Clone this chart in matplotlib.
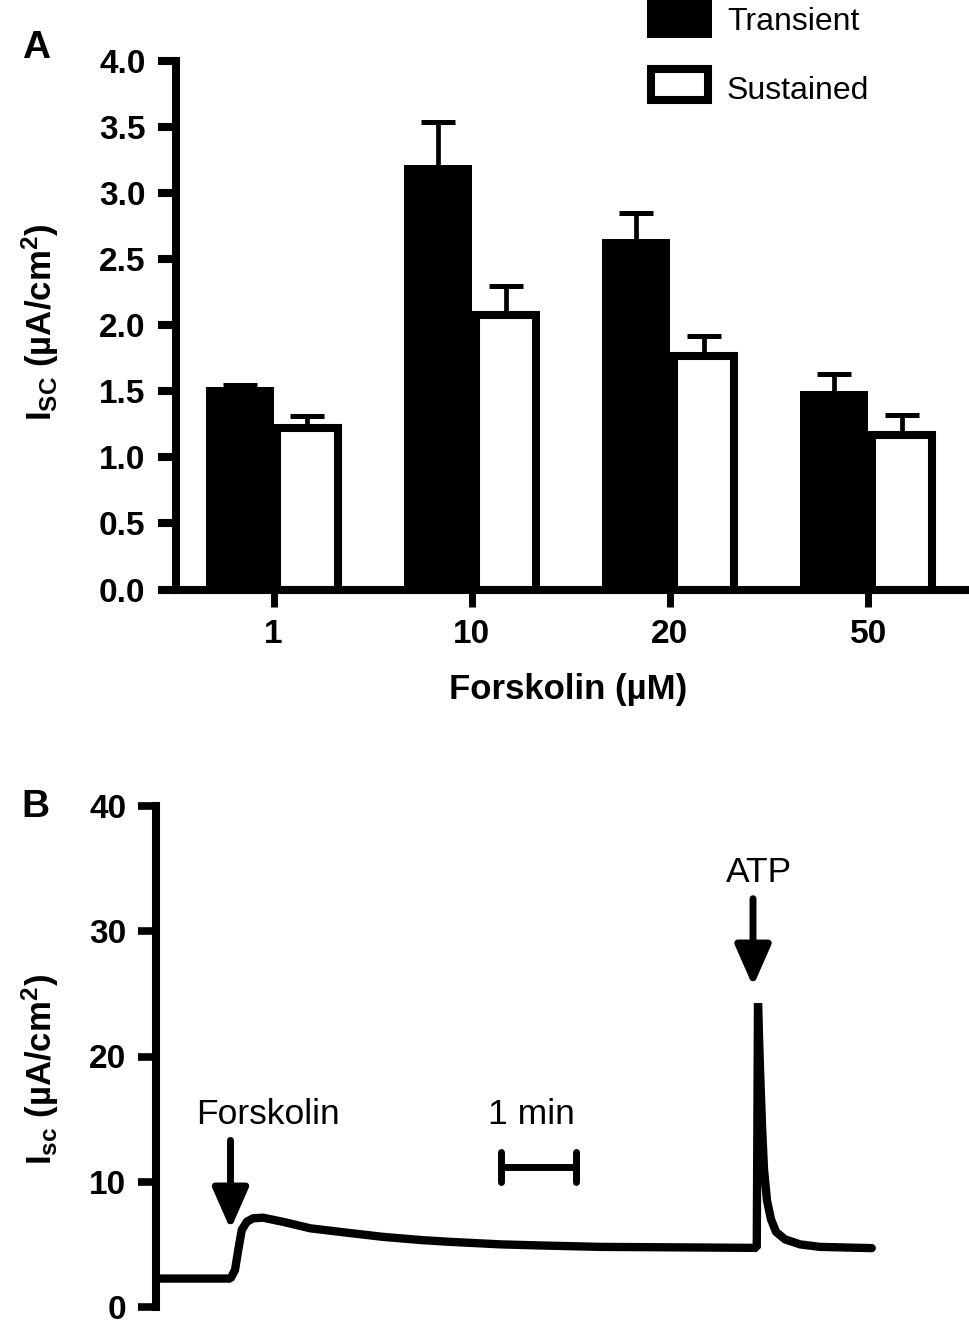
import numpy as np
import matplotlib
matplotlib.use('Agg')
import matplotlib.pyplot as plt
from matplotlib.patches import Rectangle

plt.rcParams['font.family'] = 'Liberation Sans'
plt.rcParams['mathtext.fontset'] = 'custom'
plt.rcParams['mathtext.rm'] = 'Liberation Sans:bold'
plt.rcParams['mathtext.it'] = 'Liberation Sans:bold'
plt.rcParams['mathtext.bf'] = 'Liberation Sans:bold'

# ---- panel A: bar data
doses = ['1', '10', '20', '50']
transient = [1.53, 3.21, 2.65, 1.50]
transient_err = [0.02, 0.33, 0.20, 0.13]
sustained = [1.22, 2.08, 1.77, 1.17]
sustained_err = [0.09, 0.22, 0.15, 0.15]

# ---- panel B: Isc trace (seconds, uA/cm2)
t_sec = [3, 60, 63.6, 66.2, 69, 73, 78, 86, 102, 124, 156, 182, 212, 236, 276,
         313, 356, 436, 481, 482, 483.6, 485.2, 486.8, 489.2, 492.4, 496.4,
         503.6, 515.6, 531.6, 573]
isc = [2.27, 2.27, 2.95, 4.55, 6.15, 6.8, 7.08, 7.13, 6.8, 6.28, 5.9, 5.6,
       5.35, 5.2, 5.0, 4.9, 4.8, 4.75, 4.72, 24.25, 19.0, 14.5, 11.0, 8.5, 7.0,
       6.0, 5.4, 5.0, 4.8, 4.7]
forsk_t = 60
atp_t = 478
scale_start = 276
scale_len = 60

W, H = 969, 1332
fig = plt.figure(figsize=(W / 100, H / 100), dpi=100)

# ---------------- panel A
axA = fig.add_axes([176 / W, 1 - 589.5 / H, (W - 176) / W, (589.5 - 61) / H])
x = np.arange(len(doses))
axA.bar(x - 0.343, transient, width=0.343, align='edge', color='k', lw=0)
axA.bar(x + 0.02, sustained, width=0.303, align='edge', facecolor='white',
        edgecolor='k', lw=5.8)
for xc, vals, errs in [(x - 0.171, transient, transient_err),
                       (x + 0.171, sustained, sustained_err)]:
    eb = axA.errorbar(xc, vals, yerr=[np.zeros(4), errs], fmt='none',
                      ecolor='k', elinewidth=3.4, capsize=12.5, capthick=3.6)
    eb[1][0].set_visible(False)  # only the upper cap
axA.set_xlim(-0.492, 3.509)
axA.set_ylim(0, 4.0)
axA.set_yticks(np.arange(0, 4.01, 0.5))
axA.set_yticklabels(['%.1f' % v for v in np.arange(0, 4.01, 0.5)])
axA.set_xticks(x)
axA.set_xticklabels(doses)
for s in ['top', 'right']:
    axA.spines[s].set_visible(False)
for s in ['left', 'bottom']:
    axA.spines[s].set_linewidth(5.8)
axA.tick_params(axis='y', length=13, width=5.8, pad=9, labelsize=24)
axA.tick_params(axis='x', length=12.5, width=5, pad=9, labelsize=24)
for lab in axA.get_xticklabels() + axA.get_yticklabels():
    lab.set_fontweight('bold')

fig.text(568 / W, 1 - 690 / H, 'Forskolin (µM)', ha='center', va='center',
         fontsize=25, fontweight='bold')
fig.text(40 / W, 1 - 322 / H, r'I$_{\rm SC}$ (µA/cm$^{\rm 2}$)', rotation=90,
         ha='center', va='center', fontsize=25, fontweight='bold')
fig.text(36 / W, 1 - 48 / H, 'A', ha='center', va='center', fontsize=28,
         fontweight='bold')

# legend
fig.add_artist(Rectangle((647 / W, 1 - 38.3 / H), 65 / W, 45 / H,
                         transform=fig.transFigure, facecolor='k', edgecolor='none'))
fig.add_artist(Rectangle((651 / W, 1 - 100 / H), 57 / W, 31 / H,
                         transform=fig.transFigure, facecolor='white',
                         edgecolor='k', lw=5.8))
fig.text(727 / W, 1 - 30 / H, 'Transient', fontsize=23, va='baseline')
fig.text(727 / W, 1 - 99 / H, 'Sustained', fontsize=23, va='baseline')

# ---------------- panel B
axB = fig.add_axes([155.5 / W, 1 - 1307 / H, (W - 155.5) / W, (1307 - 806) / H])
axB.plot(t_sec, isc, color='k', lw=6, solid_joinstyle='bevel',
         solid_capstyle='round')
axB.set_xlim(0, (W - 155.5) * 0.8)
axB.set_ylim(0, 40)
axB.set_yticks([0, 10, 20, 30, 40])
axB.set_xticks([])
for s in ['top', 'right', 'bottom']:
    axB.spines[s].set_visible(False)
axB.spines['left'].set_linewidth(5.8)
axB.tick_params(axis='y', length=13, width=5.5, pad=8, labelsize=24)
for lab in axB.get_yticklabels():
    lab.set_fontweight('bold')

arrow = dict(arrowstyle='-|>,head_length=1.25,head_width=0.55', mutation_scale=20,
             lw=5, color='k', shrinkA=0, shrinkB=0)
axB.annotate('', xy=(forsk_t, 6.2), xytext=(forsk_t, 13.3), arrowprops=arrow)
axB.annotate('', xy=(atp_t, 25.6), xytext=(atp_t, 32.6), arrowprops=arrow)
axB.text(90, 14.6, 'Forskolin', ha='center', va='baseline', fontsize=25.5)
axB.text(483, 33.9, 'ATP', ha='center', va='baseline', fontsize=25.5)

# scale bar
axB.plot([scale_start, scale_start + scale_len], [11.15, 11.15], color='k', lw=5,
         solid_capstyle='butt')
for xs in [scale_start, scale_start + scale_len]:
    axB.plot([xs, xs], [10.0, 12.4], color='k', lw=5, solid_capstyle='round')
axB.text(scale_start + 25, 14.6, '1 min', ha='center', va='baseline', fontsize=25.5)

fig.text(40 / W, 1 - 1070 / H, r'I$_{\rm sc}$ (µA/cm$^{\rm 2}$)', rotation=90,
         ha='center', va='center', fontsize=25, fontweight='bold')
fig.text(35 / W, 1 - 807 / H, 'B', ha='center', va='center', fontsize=28,
         fontweight='bold')

fig.savefig('out.png', dpi=100)
